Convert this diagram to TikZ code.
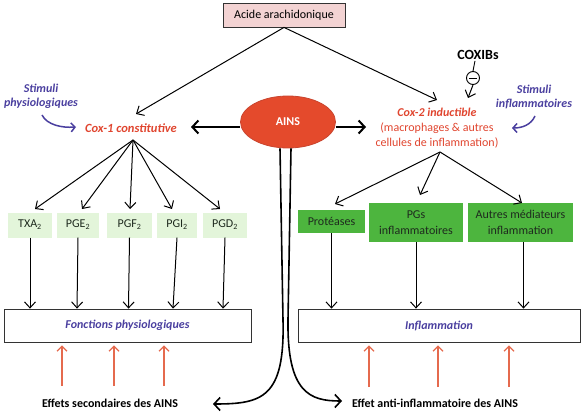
\documentclass[tikz,border=0pt]{standalone}
\usepackage{fontspec}
\setmainfont{Carlito}
\usetikzlibrary{arrows.meta,shapes.geometric}
\definecolor{ainsred}{HTML}{E44A2C}
\definecolor{ainsborder}{HTML}{C9452F}
\definecolor{coxred}{HTML}{E0452F}
\definecolor{stimblue}{HTML}{4A3F9F}
\definecolor{salmon}{HTML}{E56A4E}
\definecolor{pinkfill}{HTML}{F3D3D3}
\definecolor{lightgreen}{HTML}{E3F5DA}
\definecolor{midgreen}{HTML}{4DB53E}
\definecolor{darktext}{HTML}{1E2A1E}
\begin{document}
\begin{tikzpicture}[x=1pt,y=-1pt,
  every node/.style={inner sep=1pt,font=\fontsize{12}{14}\selectfont},
  thin arrow/.style={draw=black,line width=1pt,-{Straight Barb[length=6pt,width=11pt]}},
  thick arrow/.style={draw=black,line width=2pt,-{Straight Barb[length=6pt,width=13pt]}},
  red arrow/.style={draw=salmon,line width=1.2pt,-{Straight Barb[length=5pt,width=10pt]}},
  stim arrow/.style={draw=stimblue,line width=1.5pt,-{Straight Barb[length=4pt,width=9pt]}},
  smallbox/.style={fill=lightgreen,minimum height=25pt,text=darktext,inner sep=0pt},
  greenbox/.style={fill=midgreen,text=darktext,align=center,inner sep=0pt,font=\fontsize{12}{16}\selectfont},
  bigbox/.style={draw=black!80,line width=0.8pt,minimum width=#1,minimum height=33pt,inner sep=0pt},
  stimtext/.style={text=stimblue,font=\fontsize{12}{14}\selectfont\bfseries\itshape,align=center},
  coxtext/.style={text=coxred,font=\fontsize{12}{15}\selectfont,align=center},
  bottomtext/.style={font=\fontsize{12}{14}\selectfont\bfseries}
]
\useasboundingbox (0,0) rectangle (582,412);

% top box
\node[draw=black!80,fill=pinkfill,line width=0.8pt,minimum width=122pt,minimum height=24pt,inner sep=0pt] (acide) at (284,15) {Acide arachidonique};

% stimuli
\node[stimtext] (stim1) at (41,96) {Stimuli\\physiologiques};
\node[stimtext] (stim2) at (534,97) {Stimuli\\inflammatoires};

% cox
\node[text=coxred,font=\fontsize{12.5}{14}\selectfont\bfseries\itshape] (cox1) at (131,128) {Cox-1 constitutive};
\node[coxtext] (cox2) at (437,128) {\textbf{\textit{Cox-2 inductible}}\\(macrophages \& autres\\cellules de inflammation)};

% AINS
\node[ellipse,fill=ainsred,draw=ainsborder,line width=0.8pt,minimum width=95pt,minimum height=52pt,text=white,font=\fontsize{12}{14}\selectfont\bfseries] (ains) at (288,122) {AINS};

% COXIBs
\node[font=\fontsize{14}{16}\selectfont\bfseries] (coxib) at (478,55) {COXIBs};
\node[circle,draw=black,line width=0.9pt,minimum size=13pt,inner sep=0pt] (inh) at (473,78) {};
\draw[line width=0.9pt] ([xshift=-4pt]inh.center) -- ([xshift=4pt]inh.center);
\draw[line width=0.9pt] ([xshift=-3pt]coxib.south) -- (inh.north);
\draw[thin arrow] (inh.south) -- (468,98);

% arrows from acide
\draw[thin arrow] (acide.south) -- (136,114);
\draw[thin arrow] (acide.south) -- (437,100);

% stimuli arrows
\draw[stim arrow] (42,115) .. controls (47,125) and (62,128) .. (76,127);
\draw[stim arrow] (535,116) .. controls (531,125) and (522,128) .. (512,128);

% AINS arrows
\draw[thick arrow] ([yshift=-5pt]ains.west) -- (191,127);
\draw[thick arrow] ([yshift=-5pt]ains.east) -- (366,127);

% small boxes
\node[smallbox,minimum width=44pt] (txa) at (30,225) {TXA\textsubscript{2}};
\node[smallbox,minimum width=42pt] (pge) at (78,225) {PGE\textsubscript{2}};
\node[smallbox,minimum width=45pt] (pgf) at (129.5,225) {PGF\textsubscript{2}};
\node[smallbox,minimum width=40pt] (pgi) at (177,225) {PGI\textsubscript{2}};
\node[smallbox,minimum width=44pt] (pgd) at (225,225) {PGD\textsubscript{2}};

\coordinate (c1apex) at (133,140);
\draw[thin arrow] (c1apex) -- (35,209);
\draw[thin arrow] (c1apex) -- (82,209);
\draw[thin arrow] (c1apex) -- (130,209);
\draw[thin arrow] (c1apex) -- (172,209);
\draw[thin arrow] (c1apex) -- (220,209);

% fonctions box
\node[bigbox=247pt] (fonc) at (127.5,325.5) {};
\node[stimtext] (foncl) at (fonc.center) {Fonctions physiologiques};

\draw[thin arrow] (txa.south) -- (txa.south |- fonc.north);
\draw[thin arrow] (pge.south) -- ([xshift=-1pt]pge.south |- fonc.north);
\draw[thin arrow] (pgf.south) -- ([xshift=-1pt]pgf.south |- fonc.north);
\draw[thin arrow] (pgi.south) -- ([xshift=-4pt]pgi.south |- fonc.north);
\draw[thin arrow] (pgd.south) -- ([xshift=-2pt]pgd.south |- fonc.north);

% green boxes
\node[greenbox,minimum width=67pt,minimum height=23pt] (prot) at (331.5,221.5) {Protéases};
\node[greenbox,minimum width=94pt,minimum height=39pt] (pgs) at (416,222.5) {PGs\\inflammatoires};
\node[greenbox,minimum width=105pt,minimum height=39pt] (autres) at (520.5,222.5) {Autres médiateurs\\inflammation};

\coordinate (c2apex) at (440,152);
\draw[thin arrow] (c2apex) -- (335,204);
\draw[thin arrow] (c2apex) -- (420,195);
\draw[thin arrow] (c2apex) -- (522,203);

% inflammation box
\node[bigbox=282pt] (infl) at (439,325.5) {};
\node[stimtext] (infll) at (infl.center) {Inflammation};

\draw[thin arrow] (prot.south) -- (prot.south |- infl.north);
\draw[thin arrow] (pgs.south) -- (pgs.south |- infl.north);
\draw[thin arrow] ([xshift=3pt]autres.south) -- ([xshift=3pt]autres.south |- infl.north);

% bottom texts
\node[bottomtext] (eff1) at (110,403) {Effets secondaires des AINS};
\node[bottomtext] (eff2) at (435,403) {Effet anti-inflammatoire des AINS};

% red arrows
\foreach \x/\n in {62/a,114/b,164/c} {
  \coordinate (r\n) at (\x,386);
  \draw[red arrow] (r\n) -- ([yshift=-3pt]r\n |- fonc.south);
}
\foreach \x/\n in {369/d,438/e,509/f} {
  \coordinate (r\n) at (\x,387);
  \draw[red arrow] (r\n) -- ([yshift=-3pt]r\n |- infl.south);
}

% AINS curves
\coordinate (tipl) at (213,404);
\coordinate (tipr) at (342,401);
\draw[thick arrow,line width=1.6pt] ([xshift=-8pt]ains.south) -- (283,320) .. controls (285,398) and (262,404) .. (tipl);
\draw[thick arrow,line width=1.6pt] ([xshift=3pt]ains.south) -- (288,320) .. controls (287,393) and (310,401) .. (tipr);
\end{tikzpicture}
\end{document}
